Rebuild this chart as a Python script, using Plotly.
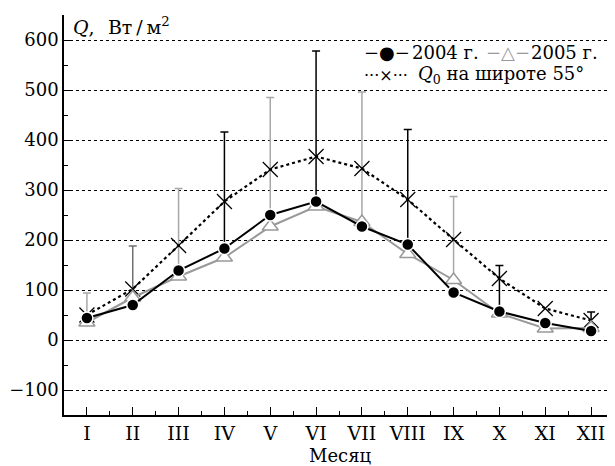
import plotly.graph_objects as go

months = ["I", "II", "III", "IV", "V", "VI", "VII", "VIII", "IX", "X", "XI", "XII"]
month_num = list(range(1, 13))

q_2004 = [44, 70, 139, 183, 250, 277, 227, 191, 95, 57, 34, 18]
q_2005 = [35, 85, 127, 165, 227, 267, 236, 172, 120, 53, 23, 24]
q0_55 = [50, 102, 189, 277, 341, 367, 343, 281, 201, 123, 63, 39]

# upper ends of the error bars (one-sided, upward)
err_top = [94, 188, 303, 416, 485, 578, 496, 421, 287, 149, None, 56]
err_base_series = ["2005", "2005", "2005", "2004", "2005", "2004", "2005", "2004", "2005", "2004", None, "2004"]
err_colors = ["#a8a8a8", "#707070", "#a8a8a8", "#000000", "#a8a8a8", "#000000",
              "#a8a8a8", "#000000", "#a8a8a8", "#000000", None, "#000000"]

FONT = "DejaVu Serif"
FS = 19
LS = 18
fig = go.Figure()

# error bars
for i, m in enumerate(month_num):
    if err_top[i] is None:
        continue
    base = q_2004[i] if err_base_series[i] == "2004" else q_2005[i]
    fig.add_trace(go.Scatter(
        x=[m], y=[base], mode="markers",
        marker=dict(size=1, opacity=0),
        error_y=dict(type="data", symmetric=False, array=[err_top[i] - base],
                     arrayminus=[0], color=err_colors[i], thickness=1.5, width=4),
        showlegend=False, hoverinfo="skip"))

fig.add_trace(go.Scatter(
    x=month_num, y=q0_55, mode="lines+markers", name="Q0",
    line=dict(color="black", width=2.2, dash="dot"),
    marker=dict(symbol="x-thin-open", size=15, line=dict(color="black", width=1.2)),
    showlegend=False))

fig.add_trace(go.Scatter(
    x=month_num, y=q_2005, mode="lines+markers", name="2005 г.",
    line=dict(color="#999999", width=2),
    marker=dict(symbol="triangle-up", size=14, color="white",
                line=dict(color="#999999", width=1.5)),
    showlegend=False))

fig.add_trace(go.Scatter(
    x=month_num, y=q_2004, mode="lines+markers", name="2004 г.",
    line=dict(color="black", width=2),
    marker=dict(symbol="circle", size=12, color="black",
                line=dict(color="white", width=1.5)),
    showlegend=False))


def note(text, x, y, xanchor="left", size=FS, color="black", family=FONT):
    return dict(xref="paper", yref="paper", x=x, y=y, xanchor=xanchor, yanchor="middle",
                text=text, showarrow=False, font=dict(family=family, size=size, color=color))


# the page places the figure 8 px from the top-left corner of the window
fig.update_layout(
    width=607, height=458,
    margin=dict(l=56, r=1, t=7, b=51, autoexpand=False),
    plot_bgcolor="white", paper_bgcolor="white",
    font=dict(family=FONT, size=FS, color="black"),
    xaxis=dict(
        range=[0.5, 12.5], tickmode="array", tickvals=month_num, ticktext=months,
        automargin=False,
        showline=True, linecolor="black", linewidth=1.5,
        ticks="inside", ticklen=8, tickwidth=1, tickcolor="black",
        minor=dict(ticks="inside", ticklen=4, tickwidth=1, tickcolor="black", dtick=0.5, tick0=0.5),
        showgrid=False, zeroline=False,
        tickfont=dict(family=FONT, size=FS),
    ),
    yaxis=dict(
        range=[-150, 650], tickmode="array", tickvals=[-100, 0, 100, 200, 300, 400, 500, 600],
        ticktext=["\u2212100", "0", "100", "200", "300", "400", "500", "600"],
        automargin=False,
        showline=True, linecolor="black", linewidth=1.5,
        ticks="inside", ticklen=6, tickwidth=1, tickcolor="black",
        minor=dict(ticks="inside", ticklen=4, tickwidth=1, tickcolor="black",
                   tickvals=[-150, -50, 50, 150, 250, 350, 450, 550, 650]),
        showgrid=True, gridcolor="black", gridwidth=1, griddash="dot",
        zeroline=False,
        tickfont=dict(family=FONT, size=18),
    ),
    annotations=[
        note("<i>Q</i>,\u2002\u2009Вт\u2009/\u2009м<sup>2</sup>", 0.012, 0.972),
        note("Месяц", 0.502, -0.101, xanchor="center", size=18),
        note("\u2212\u25cf\u2212", 0.542, 0.905, size=LS),
        note("2004 г.", 0.629, 0.905, size=LS),
        note("\u2212\u25b3\u2212", 0.764, 0.905, size=LS, color="#999999"),
        note("2005 г.", 0.845, 0.905, size=LS),
        note("\u00b7\u00b7\u00b7\u00d7\u00b7\u00b7\u00b7", 0.542, 0.85, size=16),
        note("<i>Q</i><sub>0</sub> на широте 55°", 0.64, 0.85, size=LS),
    ],
)

fig.write_html("out.html")
